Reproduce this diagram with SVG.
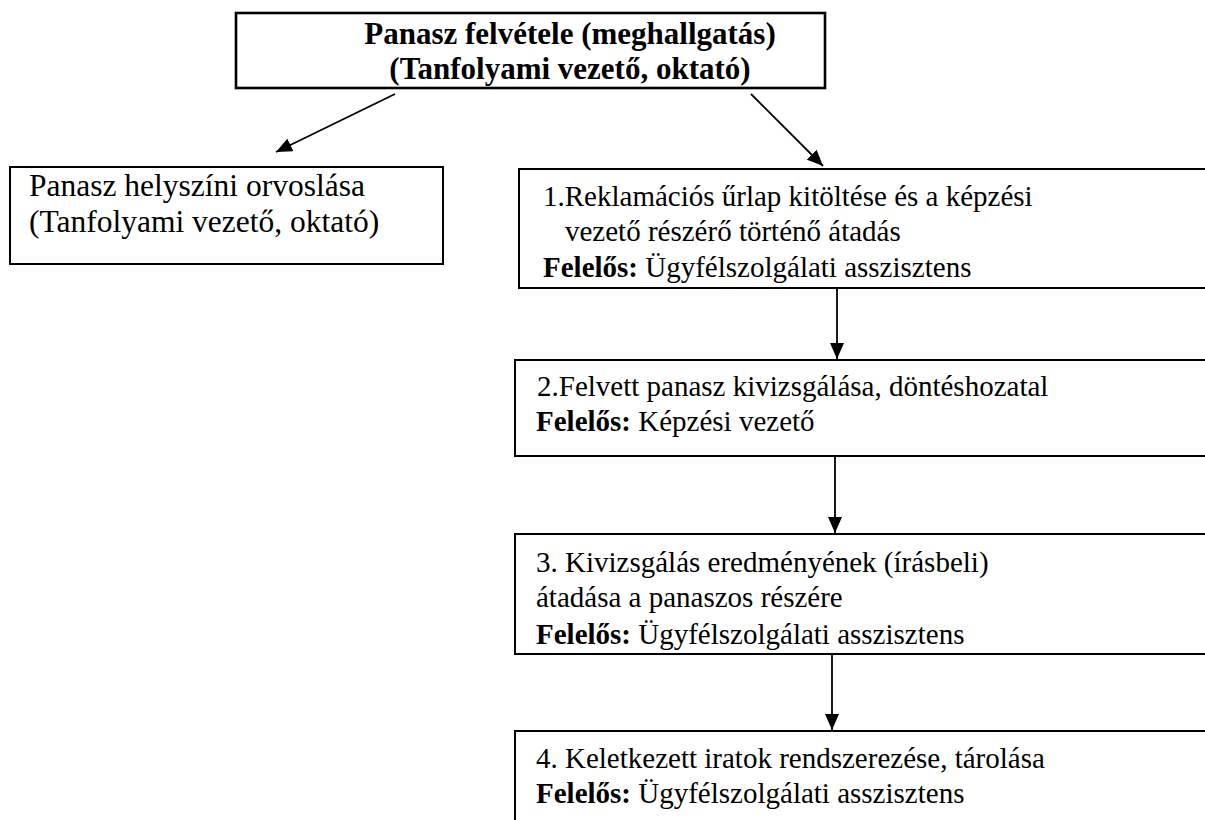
<svg xmlns="http://www.w3.org/2000/svg" width="1205" height="820" viewBox="0 0 1205 820">
<style>
.box{fill:#fff;stroke:#000;stroke-width:2}
.t{font-family:"Liberation Serif","Times New Roman",serif;fill:#000}
.r29{font-size:29px}
.b{font-weight:bold}
.conn{stroke:#000;stroke-width:1.8;fill:none}
</style>
<defs>
<marker id="ah" viewBox="0 0 16 14" refX="16" refY="7" markerWidth="16" markerHeight="14" orient="auto" markerUnits="userSpaceOnUse">
<path d="M0,0 L16,7 L0,14 z" fill="#000"/>
</marker>
</defs>
<rect width="1205" height="820" fill="#fff"/>
<g id="top">
<rect class="box" x="236" y="13" width="589" height="75" style="stroke-width:2.6"/>
<text class="t b" x="570" y="44" font-size="31" text-anchor="middle">Panasz felvétele (meghallgatás)</text>
<text class="t b" x="570" y="79" font-size="31" text-anchor="middle">(Tanfolyami vezető, oktató)</text>
</g>
<g id="left">
<rect class="box" x="10" y="167" width="433" height="97"/>
<text class="t" x="29" y="196" font-size="31.5">Panasz helyszíni orvoslása</text>
<text class="t" x="29" y="232" font-size="31.5">(Tanfolyami vezető, oktató)</text>
</g>
<g id="step1">
<rect class="box" x="519" y="169" width="700" height="119"/>
<text class="t r29" x="543" y="206">1.Reklamációs űrlap kitöltése és a képzési</text>
<text class="t r29" x="565" y="241">vezető részérő történő átadás</text>
<text class="t r29" x="543" y="277"><tspan class="b">Felelős:</tspan> Ügyfélszolgálati asszisztens</text>
</g>
<g id="step2">
<rect class="box" x="515" y="360" width="704" height="96"/>
<text class="t r29" x="537" y="396">2.Felvett panasz kivizsgálása, döntéshozatal</text>
<text class="t r29" x="536" y="431"><tspan class="b">Felelős:</tspan> Képzési vezető</text>
</g>
<g id="step3">
<rect class="box" x="515" y="534" width="704" height="120"/>
<text class="t r29" x="536" y="572">3. Kivizsgálás eredményének (írásbeli)</text>
<text class="t r29" x="536" y="607">átadása a panaszos részére</text>
<text class="t r29" x="536" y="644"><tspan class="b">Felelős:</tspan> Ügyfélszolgálati asszisztens</text>
</g>
<g id="step4">
<rect class="box" x="515" y="731" width="704" height="100"/>
<text class="t r29" x="536" y="768">4. Keletkezett iratok rendszerezése, tárolása</text>
<text class="t r29" x="536" y="803"><tspan class="b">Felelős:</tspan> Ügyfélszolgálati asszisztens</text>
</g>
<g id="connectors">
<line class="conn" x1="395" y1="94" x2="276" y2="152" marker-end="url(#ah)"/>
<line class="conn" x1="751" y1="94" x2="823" y2="166" marker-end="url(#ah)"/>
<line class="conn" x1="837" y1="289" x2="837" y2="359" marker-end="url(#ah)"/>
<line class="conn" x1="835" y1="456" x2="835" y2="533" marker-end="url(#ah)"/>
<line class="conn" x1="832" y1="654" x2="832" y2="730" marker-end="url(#ah)"/>
</g>
</svg>
